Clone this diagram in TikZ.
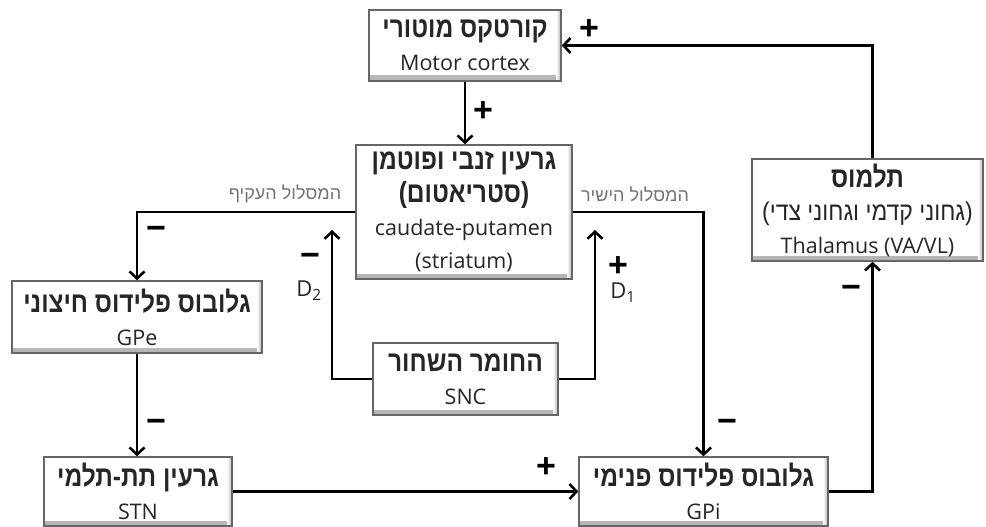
\documentclass[tikz,border=0pt]{standalone}
\usepackage{fontspec}
\usepackage{graphicx}
\setmainfont{Open Sans}
\newfontfamily\heb[Script=Hebrew]{Liberation Sans}
\TeXXeTstate=1
\usetikzlibrary{arrows.meta}
\newcommand\hb[1]{\scalebox{1}[1.18]{\heb\bfseries\fontsize{24.5}{33}\selectfont\beginR #1\endR}}
\newcommand\hn[1]{\scalebox{1}[1.12]{\heb\fontsize{23}{33}\selectfont\beginR #1\endR}}
\begin{document}
\begin{tikzpicture}[x=1pt,y=-1pt,
  box/.style={draw=black!60, line width=1.5pt, fill=white, align=center,
    inner sep=0pt, text=black!85, font=\fontsize{21.5}{33}\selectfont,
    path picture={
      \shade[top color=white,bottom color=gray!60] ([yshift=5pt]path picture bounding box.south west) rectangle (path picture bounding box.south east);
      \shade[left color=white,right color=gray!60] ([xshift=-5pt]path picture bounding box.north east) rectangle (path picture bounding box.south east);
    }},
  arr/.style={-{Straight Barb[length=7pt,width=15pt]}, line width=2.6pt},
  sgn/.style={font=\heb\bfseries\fontsize{34}{34}\selectfont, inner sep=0pt},
  pathlab/.style={font=\heb\fontsize{18}{18}\selectfont, text=black!55, inner sep=0pt},
  dlab/.style={font=\fontsize{22}{22}\selectfont, inner sep=0pt, text=black!85}
]
\useasboundingbox (0,0) rectangle (986,527);

\node[box, minimum width=192pt, minimum height=71pt] (mc) at (465,45.5)
  {\hb{קורטקס מוטורי}\\Motor cortex};
\node[box, minimum width=216pt, minimum height=134pt] (str) at (464,212)
  {\hb{גרעין זנבי ופוטמן}\\\hb{(סטריאטום)}\\caudate-putamen\\(striatum)};
\node[box, minimum width=231pt, minimum height=102pt] (thal) at (867.5,210)
  {\hb{תלמוס}\\\hn{(גחוני קדמי וגחוני צדי)}\\Thalamus (VA/VL)};
\node[box, minimum width=250pt, minimum height=72pt] (gpe) at (137,317)
  {\hb{גלובוס פלידוס חיצוני}\\GPe};
\node[box, minimum width=185pt, minimum height=72pt] (snc) at (465.5,379)
  {\hb{החומר השחור}\\SNC};
\node[box, minimum width=188pt, minimum height=69pt] (stn) at (138,491.5)
  {\hb{גרעין תת-תלמי}\\STN};
\node[box, minimum width=249pt, minimum height=69pt] (gpi) at (703.5,491.5)
  {\hb{גלובוס פלידוס פנימי}\\GPi};

\coordinate (d2) at (332,230);
\coordinate (d1) at (595,230);

\draw[arr] (mc.south) -- (mc.south |- str.north);
\draw[arr] ([xshift=5pt]thal.north) |- (mc.east);
\draw[arr] (gpi.east) -| ([xshift=5pt]thal.south);
\draw[arr] (str.west) -| (gpe.north);
\draw[arr] (str.east) -| (gpi.north);
\draw[arr] (gpe.south) -- (gpe.south |- stn.north);
\draw[arr] (stn.east) -- (stn.east -| gpi.west);
\draw[arr] (snc.west) -| (d2);
\draw[arr] (snc.east) -| (d1);

\node[sgn] (p1) at (483,112) {+};
\node[sgn] (p2) at (589,30) {+};
\node[sgn] (m1) at (156,233) {−};
\node[sgn] (m2) at (310,260) {−};
\node[sgn] (p3) at (618,267) {+};
\node[sgn] (m3) at (156,426) {−};
\node[sgn] (p4) at (546,468) {+};
\node[sgn] (m4) at (727,426) {−};
\node[sgn] (m5) at (851,292) {−};

\node[dlab] (D2) at (309,291) {D\textsubscript{2}};
\node[dlab] (D1) at (623,293) {D\textsubscript{1}};

\node[pathlab] (ind) at (285,194) {\beginR המסלול העקיף\endR};
\node[pathlab] (dir) at (635,194) {\beginR המסלול הישיר\endR};
\end{tikzpicture}
\end{document}
